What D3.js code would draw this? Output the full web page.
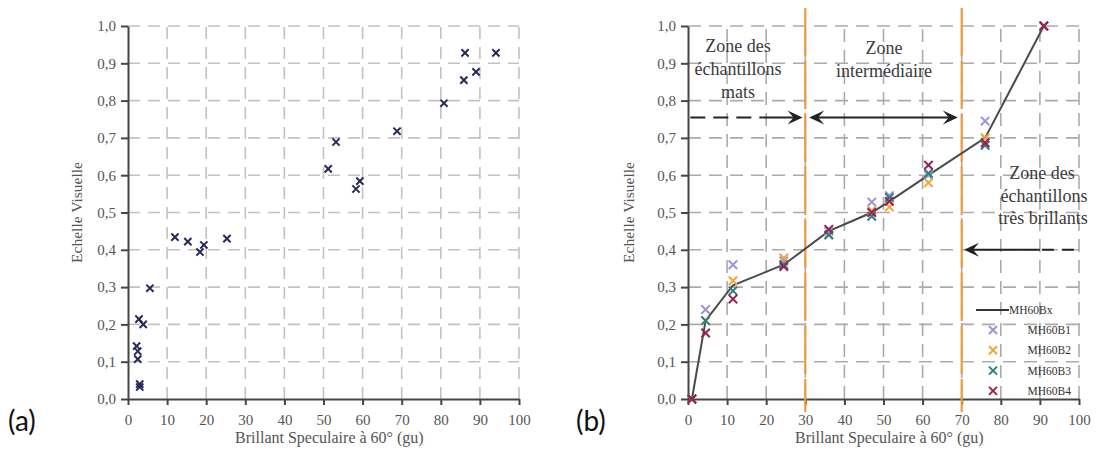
<!DOCTYPE html>
<html><head><meta charset="utf-8">
<script src="https://cdn.jsdelivr.net/npm/d3@7"></script>
<style>body{margin:0;background:#fff}svg{display:block}</style>
</head><body>
<script>
// ---- data ----
const xTicks = [0,10,20,30,40,50,60,70,80,90,100];
const yTicks = [0,0.1,0.2,0.3,0.4,0.5,0.6,0.7,0.8,0.9,1.0];
const xTitle = "Brillant Speculaire à 60° (gu)";
const yTitle = "Echelle Visuelle";

// chart (a)
const glossA = [2.2,2.5,2.5,2.8,3.9,3.0,3.0,5.6,12,15.3,18.4,19.4,25.3,51.2,53.2,58.3,59.3,68.8,80.8,85.9,86.2,89,94.1];
const scaleA = [0.142,0.128,0.107,0.214,0.200,0.040,0.032,0.297,0.434,0.422,0.394,0.413,0.430,0.617,0.689,0.563,0.584,0.718,0.793,0.855,0.928,0.877,0.928];

// chart (b)
const glossB = [1,4.5,11.5,24.5,36,47,51.5,61.5,76,91];
const lineBx = [0,0.21,0.305,0.36,0.45,0.50,0.53,0.60,0.70,1.0];
const seriesNames = ["MH60B1","MH60B2","MH60B3","MH60B4"];
const seriesB1 = [0,0.240,0.360,0.370,0.450,0.528,0.545,0.600,0.745,1.0];
const seriesB2 = [0,0.210,0.317,0.378,0.440,0.505,0.515,0.580,0.700,1.0];
const seriesB3 = [0,0.210,0.290,0.360,0.440,0.490,0.540,0.605,0.680,1.0];
const seriesB4 = [0,0.177,0.268,0.355,0.455,0.500,0.530,0.627,0.687,1.0];
const seriesColors = ["#9c94d8","#f2a532","#2b7f80","#9a2052"];
const zoneLimits = [30,70];

const svg = d3.select("body").append("svg").attr("width",1096).attr("height",457);
const serif = "'Liberation Serif','DejaVu Serif',serif";
const fmt = d => d.toFixed(1).replace('.', ',');

function frame(x, y, gridColor, dash, yTitleX) {
  const g = svg.append("g");
  // grid
  g.selectAll(".vg").data(xTicks.slice(1)).join("line")
    .attr("x1", d=>x(d)).attr("x2", d=>x(d)).attr("y1", y(0)).attr("y2", y(1))
    .attr("stroke", gridColor).attr("stroke-width", 1.6).attr("stroke-dasharray", dash);
  g.selectAll(".hg").data(yTicks.slice(1)).join("line")
    .attr("x1", x(0)).attr("x2", x(100)).attr("y1", d=>y(d)).attr("y2", d=>y(d))
    .attr("stroke", gridColor).attr("stroke-width", 1.6).attr("stroke-dasharray", dash);
  // axes
  const ay = g.append("g").attr("transform", `translate(${x(0)},0)`)
    .call(d3.axisLeft(y).tickValues(yTicks).tickFormat(fmt).tickSize(7).tickPadding(5).tickSizeOuter(0));
  const ax = g.append("g").attr("transform", `translate(0,${y(0)})`)
    .call(d3.axisBottom(x).tickValues(xTicks).tickSize(6).tickPadding(9).tickSizeOuter(0));
  [ax, ay].forEach(a => {
    a.select(".domain").attr("stroke", "#454545").attr("stroke-width", 2);
    a.selectAll(".tick line").attr("stroke", "#454545").attr("stroke-width", 2);
    a.selectAll("text").attr("font-family", serif).attr("font-size", 15).attr("fill", "#555");
  });
  g.append("text").attr("x", x(51.5)).attr("y", 443).attr("text-anchor", "middle")
    .attr("font-family", serif).attr("font-size", 16).attr("fill", "#555").text(xTitle);
  g.append("text").attr("transform", `translate(${yTitleX},${y(0.5)}) rotate(-90)`)
    .attr("text-anchor", "middle").attr("font-family", serif).attr("font-size", 15.5)
    .attr("fill", "#555").text(yTitle);
  return g;
}
const cross = s => `M${-s},${-s}L${s},${s}M${-s},${s}L${s},${-s}`;

// ---------- chart (a) ----------
const xA = d3.scaleLinear([0,100],[128,519]);
const yA = d3.scaleLinear([0,1],[399,26]);
const gA = frame(xA, yA, "#c9bfc1", "12,8", 82);
gA.selectAll(".pa").data(glossA.map((g,i)=>[g, scaleA[i]])).join("path")
  .attr("d", cross(3.6)).attr("transform", d=>`translate(${xA(d[0])},${yA(d[1])})`)
  .attr("stroke", "#262a5c").attr("stroke-width", 2).attr("fill", "none");
svg.append("text").attr("x", 8).attr("y", 431).attr("font-family", "Lato,'Open Sans',sans-serif")
  .attr("font-size", 28).attr("fill", "#111").text("(a)");

// ---------- chart (b) ----------
const xB = d3.scaleLinear([0,100],[688,1079]);
const yB = d3.scaleLinear([0,1],[399,26]);
const gB = frame(xB, yB, "#ababab", "13,8", 634);

// zone limits
gB.selectAll(".zl").data(zoneLimits).join("line")
  .attr("x1", d=>xB(d)).attr("x2", d=>xB(d)).attr("y1", 8).attr("y2", 412)
  .attr("stroke", "#ee9a3e").attr("stroke-width", 2.2).attr("stroke-dasharray", "48,5");

// curve
gB.append("path").datum(glossB.map((g,i)=>[g, lineBx[i]]))
  .attr("d", d3.line().x(d=>xB(d[0])).y(d=>yB(d[1])))
  .attr("fill", "none").attr("stroke", "#4a4a4a").attr("stroke-width", 2);

// series markers
[seriesB1, seriesB2, seriesB3, seriesB4].forEach((vals, si) => {
  gB.append("g").selectAll("path").data(glossB.map((g,i)=>[g, vals[i]])).join("path")
    .attr("d", cross(4.2)).attr("transform", d=>`translate(${xB(d[0])},${yB(d[1])})`)
    .attr("stroke", seriesColors[si]).attr("stroke-width", 2).attr("fill", "none");
});

// arrows
function head(x, y, dir) { // dir: 1 pointing right, -1 pointing left
  const L = 15, W = 7, b = 9;
  return `M${x},${y}L${x - dir*L},${y - W}L${x - dir*b},${y}L${x - dir*L},${y + W}Z`;
}
const ya = yB(0.755);
const arr = gB.append("g").attr("stroke", "#222").attr("stroke-width", 2).attr("fill", "#222");
arr.append("line").attr("x1", xB(0.6)).attr("x2", xB(19)).attr("y1", ya).attr("y2", ya).attr("stroke-dasharray", "15,8");
arr.append("line").attr("x1", xB(19)).attr("x2", xB(28.5)).attr("y1", ya).attr("y2", ya);
arr.append("path").attr("d", head(xB(29.3), ya, 1)).attr("stroke", "none");
arr.append("line").attr("x1", xB(31.8)).attr("x2", xB(67.8)).attr("y1", ya).attr("y2", ya);
arr.append("path").attr("d", head(xB(31.0), ya, -1)).attr("stroke", "none");
arr.append("path").attr("d", head(xB(69.0), ya, 1)).attr("stroke", "none");
const yr = yB(0.40);
arr.append("line").attr("x1", xB(71.5)).attr("x2", xB(90)).attr("y1", yr).attr("y2", yr);
arr.append("line").attr("x1", xB(90)).attr("x2", xB(99.5)).attr("y1", yr).attr("y2", yr).attr("stroke-dasharray", "0,2,12,6");
arr.append("path").attr("d", head(xB(70.6), yr, -1)).attr("stroke", "none");

// zone texts
const zt = gB.append("g").attr("font-family", serif).attr("font-size", 18).attr("fill", "#3a3a3a").attr("text-anchor", "middle");
[["Zone des", 738, 52], ["échantillons", 738, 75], ["mats", 738, 98],
 ["Zone", 884, 54], ["intermédiaire", 884, 77],
 ["Zone des", 1042, 179], ["échantillons", 1044, 202], ["très brillants", 1043, 224]]
  .forEach(t => zt.append("text").attr("x", t[1]).attr("y", t[2]).text(t[0]));

// legend
const lg = gB.append("g").attr("font-family", serif).attr("font-size", 11.5).attr("fill", "#333");
lg.append("line").attr("x1", 976).attr("x2", 1009).attr("y1", 310).attr("y2", 310).attr("stroke", "#333").attr("stroke-width", 2);
lg.append("text").attr("x", 1009).attr("y", 314).text("MH60Bx");
seriesNames.forEach((n, i) => {
  const yy = 330 + i*20.3;
  lg.append("path").attr("d", cross(4)).attr("transform", `translate(993,${yy})`)
    .attr("stroke", seriesColors[i]).attr("stroke-width", 2).attr("fill", "none");
  lg.append("text").attr("x", 1071).attr("y", yy + 4).attr("text-anchor", "end").text(n);
});

svg.append("text").attr("x", 576).attr("y", 431).attr("font-family", "Lato,'Open Sans',sans-serif")
  .attr("font-size", 28).attr("fill", "#111").text("(b)");
</script>
</body></html>
